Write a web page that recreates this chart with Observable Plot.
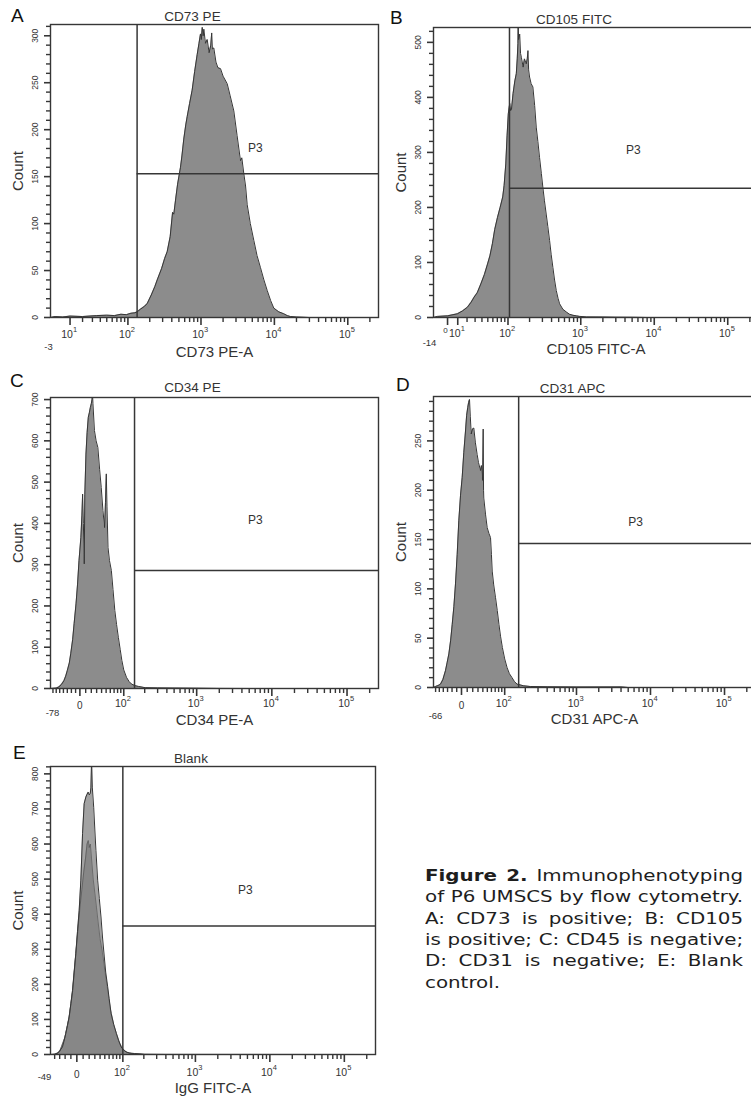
<!DOCTYPE html>
<html><head><meta charset="utf-8">
<script src="https://cdn.jsdelivr.net/npm/d3@7"></script>
<script src="https://cdn.jsdelivr.net/npm/@observablehq/plot@0.6"></script>
<style>
html,body{margin:0;padding:0;background:#fff;overflow:hidden;}
#page{position:relative;width:751px;height:1103px;overflow:hidden;background:#fff;font-family:"Liberation Sans",Arial,sans-serif;}
.panel{position:absolute;}
.letter{position:absolute;font-size:19px;line-height:19px;color:#111;font-family:"Liberation Sans",Arial,sans-serif;}
.cap{position:absolute;left:425px;width:256.5px;font-family:"DejaVu Sans",sans-serif;font-size:16px;line-height:21.3px;height:21.3px;color:#1e1e1e;transform-origin:0 0;transform:scaleX(1.24);white-space:nowrap;text-align:justify;text-align-last:justify;}
.cap.last{text-align:left;text-align-last:left;}
</style></head><body><div id="page"></div>
<script>
// ---------------- data ----------------
const panelLetters = ["A", "B", "C", "D", "E"];
const panelTitles = ["CD73 PE", "CD105 FITC", "CD34 PE", "CD31 APC", "Blank"];
const xAxisLabels = ["CD73 PE-A", "CD105 FITC-A", "CD34 PE-A", "CD31 APC-A", "IgG FITC-A"];
const yAxisLabel = "Count";
const gateName = "P3";

// CD73 PE histogram
const cd73Intensity = [-3,0,5,10,20,35,50,65,80,95,110,125,134,150,170,185,210,235,253,290,320,346,380,410,426,450,480,526,550,583,620,649,700,758,820,888,940,985,1010,1040,1070,1094,1150,1215,1290,1360,1400,1430,1495,1600,1700,1845,2000,2275,2500,2800,3100,3453,3600,3835,4050,4264,4700,5250,5800,6470,7200,7970,8900,9820,11500,13430,15000,16570,20000,30000,262143];
const cd73Count = [0,1,0.5,1.5,1,2,2.5,2,3.5,3,4.5,5,6,9,12,15,24,33,40,52,63,70,86,112,110,125,142,160,172,190,205,214,228,242,262,280,292,302,296,309,300,307,292,296,282,290,303,286,287,272,266,265,257,249,236,220,194,167,170,153,140,120,100,82,66,53,40,29,18,10,6,4,2,1,0.5,0,0];

// CD105 FITC histogram
const cd105Intensity = [-14,-10,0,9.6,15,20.5,25,28.7,33,38.3,44,49.5,54,59,64,70.5,77,84,88,93,97,101,104,106,109,112,118,125,131,135,138,139,141,146,150,154,163,170,180,186,190,194,200,210,222,235,247,260,274,290,304,320,338,356,376,395,417,440,464,490,515,570,636,700,785,870,970,1200,2000,3000,5000,8000,262143];
const cd105Count = [0,2,3,6.7,12,18.8,28,37,45,61,78,97,112,134,160,182,200,219,240,279,330,370,382,389,376,378,407,430,443,470,498,540,505,515,480,473,455,470,461,470,485,450,437,425,419,385,346,320,291,262,237,212,188,165,140,115,91,68,49,35,25,15,10,6,4,3,2,1,0.8,0.5,0.3,0,0];

// CD34 PE histogram
const cd34Intensity = [-78,-60,-52,-45,-38.6,-34,-29.8,-25,-21.6,-17,-13.5,-9,-5.4,-2,1.7,3.5,4.7,6,7.5,8.5,10.5,12.5,14.6,16.5,18.3,20,21.4,22,23,25.8,29,32.4,36,39.3,42.9,46.5,48.5,50.4,52,54.4,58,62.7,67,72,77,82.3,88,93.5,100,110,120,130,145,164,203,300,500,1000,2000,5000,262143];
const cd34Count = [0,1,4,10,19,30,44,62,84,118,157,205,253,310,366,420,471,400,302,470,568,620,657,668,681,690,701,720,690,625,600,584,530,487,431,390,450,520,440,342,310,286,240,189,155,124,95,68,45,27,17,11,7,5,2,1.5,1,0.7,0.3,0,0];

// CD31 APC histogram
const cd31Intensity = [-66,-60.3,-53,-47,-41,-34.8,-31,-27,-23,-19.6,-16,-12.6,-9,-5.6,-2,1.2,4,7,9,11,12.5,14.1,15.5,17.2,19.5,22,25,28.4,31,35,37,39.5,40.7,41.5,42,46,49.7,54,57.7,60,62,66,71,76,81,86,92,100,109,118,129,140,153,190,235,400,1000,4000,5000,262143];
const cd31Count = [0,1,2,3.4,8,17,25,34,48,64,82,105,135,169,195,213,238,260,276,284,289,292,275,257,262,263,248,236,228,220,225,210,262,200,192,175,162,156,152,135,118,104,91,78,64,52,40.5,29,20,14,10,6,3.4,1.7,1,0.7,0.5,0.6,0,0];

// Blank (IgG FITC) histogram: outer and overlapping inner trace
const blankIntensity = [-49,-40,-34.5,-30,-24.8,-22,-18.9,-16,-13,-10,-7.2,-4.5,-1.7,1,3.7,6.4,9.1,11.7,14.5,16.5,18.4,20,21.8,23,24.2,25.5,27.9,30,32,35.3,38.5,41.9,45,48.9,52,56.6,60,65,72,79.4,86,94,102,111.6,125,148,205,400,262143];
const blankCount = [0,1,2.8,10,21.7,38,60,82,107,145,183,235,288,350,411,497,630,715,734,742,748,740,744,760,840,760,705,640,582,497,445,392,335,278,235,193,160,117,85,60,40,22,13,7.6,4,2.8,0.5,0.3,0];
const blankInnerIntensity = [-40,-30,-20,-13,-7,-2,2,5,8,11,14,16.5,18.5,20,22,24,27,30,33,36,40,45,50,56,63,72,80,90,100,115,140,200];
const blankInnerCount = [0,8,50,105,180,280,360,420,470,520,560,600,610,590,600,560,500,460,420,380,330,290,240,190,130,85,58,32,16,6,2,0];

// gates: threshold intensity and horizontal count; P3 label position
const gateThreshold = [134, 105, 144, 161, 100];
const gateLevel = [153, 235, 286, 146, 366];
const p3Intensity = [5500, 5200, 6040, 6280, 4700];
const p3Count = [180, 304, 407, 168, 468];

// axis ranges
const xMinima = [-3, -14, -78, -66, -49];
const xMaximum = 262143;
const yMaxima = [312, 527, 705, 295, 821];

// tick labels
const xNegLabels = ["-3", "-14", "-78", "-66", "-49"];
const decadeTicksAB = [10, 100, 1000, 10000, 100000];
const decadeExpAB = ["1", "2", "3", "4", "5"];
const decadeTicksCDE = [100, 1000, 10000, 100000];
const decadeExpCDE = ["2", "3", "4", "5"];
const zeroLabel = ["0"];
const yTicksA = [0, 50, 100, 150, 200, 250, 300];
const yTicksB = [0, 100, 200, 300, 400, 500];
const yTicksC = [0, 100, 200, 300, 400, 500, 600, 700];
const yTicksD = [0, 50, 100, 150, 200, 250];
const yTicksE = [0, 100, 200, 300, 400, 500, 600, 700, 800];

// caption
const captionLines = [
  ["Figure 2.", " Immunophenotyping"],
  ["", "of P6 UMSCS by flow cytometry."],
  ["", "A: CD73 is positive; B: CD105"],
  ["", "is positive; C: CD45 is negative;"],
  ["", "D: CD31 is negative; E: Blank"],
  ["", "control."]
];

// ---------------- layout / styles ----------------
const layout = [
  {left: 0,   top: 0,   width: 380, height: 365, mt: 24, mb: 48, ml: 50, mr: 2, wn: 10.3, wp: 10.3, titleDy: -8,  xlabDy: 35, tickDy: 17, negDx: -2, negDy: 29, letter: [11, 6]},
  {left: 380, top: 0,   width: 380, height: 365, mt: 27, mb: 48, ml: 53, mr: 2, wn: 15.4, wp: 15.4, titleDy: -8,  xlabDy: 32, tickDy: 16, negDx: -4, negDy: 25, letter: [390, 8]},
  {left: 0,   top: 370, width: 380, height: 365, mt: 27, mb: 47, ml: 50, mr: 2, wn: 38,   wp: 28,   titleDy: -10, xlabDy: 32, tickDy: 15, negDx: 2,  negDy: 24, letter: [10, 371]},
  {left: 380, top: 370, width: 380, height: 365, mt: 26, mb: 48, ml: 53, mr: 5, wn: 33.5, wp: 28,   titleDy: -8,  xlabDy: 32, tickDy: 16, negDx: 2,  negDy: 28, letter: [396, 375]},
  {left: 0,   top: 740, width: 380, height: 363, mt: 26, mb: 49, ml: 50, mr: 5, wn: 27,   wp: 25.6, titleDy: -8,  xlabDy: 34, tickDy: 18, negDx: -6, negDy: 22, letter: [13, 743]}
];
const histFill = "#8c8c8c";
const lineColor = "#363636";
const textColor = "#333";
const fontFamily = "'Liberation Sans', Arial, sans-serif";

const histograms = [
  [cd73Intensity, cd73Count], [cd105Intensity, cd105Count], [cd34Intensity, cd34Count],
  [cd31Intensity, cd31Count], [blankIntensity, blankCount]
];
const yTickSets = [yTicksA, yTicksB, yTicksC, yTicksD, yTicksE];
const yMinorStep = [10, 20, 20, 10, 20];

function makePanel(i) {
  const L = layout[i];
  const f = v => v < 0 ? -Math.asinh(-v / (2 * L.wn)) / Math.LN10 : Math.asinh(v / (2 * L.wp)) / Math.LN10;
  const xlo = f(xMinima[i]), xhi = f(xMaximum);
  const [ints, cnts] = histograms[i];
  const hist = ints.map((v, k) => ({v, c: cnts[k]}));
  const X = d => f(d.v);
  const isAB = i < 2;
  const decades = isAB ? decadeTicksAB : decadeTicksCDE;
  const exps = isAB ? decadeExpAB : decadeExpCDE;

  // minor x ticks (axis structure)
  const minorX = [];
  if (!isAB) for (let t = Math.ceil(xMinima[i] / 10) * 10; t < 100; t += 10) if (t !== 0 && t > xMinima[i]) minorX.push(t);
  for (let k = isAB ? 1 : 2; k <= 4; k++) for (let m = 2; m <= 9; m++) minorX.push(m * Math.pow(10, k));
  minorX.push(200000);
  const majorX = i === 0 ? decades : decades.concat([0]);
  const yMinor = d3.range(0, yMaxima[i], yMinorStep[i]).filter(t => !yTickSets[i].includes(t));

  const yTickRule = (vals, len, w) => Plot.ruleY(vals, {y: d => d, x1: () => xlo, x2: () => xlo, insetLeft: -len, stroke: lineColor, strokeWidth: w});
  const xTickRule = (vals, len, w) => Plot.ruleX(vals, {x: d => f(d), y1: () => 0, y2: () => 0, insetBottom: -len, stroke: lineColor, strokeWidth: w});

  const marks = [
    Plot.areaY(hist, {x: X, y: "c", fill: i === 4 ? "#a2a2a2" : histFill, curve: "linear", clip: true})
  ];
  if (i === 4) {
    const inner = blankInnerIntensity.map((v, k) => ({v, c: blankInnerCount[k]}));
    marks.push(Plot.areaY(inner, {x: X, y: "c", fill: "#878787", curve: "linear", clip: true}));
    marks.push(Plot.lineY(inner, {x: X, y: "c", stroke: "#555", strokeWidth: 0.7, clip: true}));
  }
  marks.push(
    Plot.lineY(hist, {x: X, y: "c", stroke: lineColor, strokeWidth: 1, clip: true}),
    Plot.frame({stroke: lineColor, strokeWidth: 1.4}),
    Plot.ruleX([gateThreshold[i]], {x: d => f(d), stroke: lineColor, strokeWidth: 1.5}),
    Plot.ruleY([gateLevel[i]], {y: d => d, x1: () => f(gateThreshold[i]), x2: () => xhi, stroke: lineColor, strokeWidth: 1.5}),
    Plot.text([gateName], {x: () => f(p3Intensity[i]), y: () => p3Count[i], fontSize: 12, fill: textColor}),
    // y axis
    yTickRule(yTickSets[i], 6, 1.6),
    yTickRule(yMinor, 4, 1.4),
    Plot.text(yTickSets[i], {x: () => xlo, y: d => d, text: d => String(d), rotate: -90, dx: -15, fontSize: 8.5, fill: textColor}),
    Plot.text([yAxisLabel], {frameAnchor: "left", textAnchor: "middle", lineAnchor: "middle", dx: -32, rotate: -90, fontSize: 15, fill: textColor}),
    // x axis
    xTickRule(majorX, 8, 1.6),
    xTickRule(minorX, 5, 1.4),
    Plot.text(decades, {x: d => f(d), y: () => 0, text: () => "10", dx: -3, dy: L.tickDy, fontSize: 10.5, fill: textColor}),
    Plot.text(decades, {x: d => f(d), y: () => 0, text: (d, k) => exps[k], dx: 5, dy: L.tickDy - 5, fontSize: 7.5, fill: textColor}),
    Plot.text(i === 0 ? [] : zeroLabel, {x: () => f(0), y: () => 0, dx: i === 1 ? -2 : 0, dy: i === 1 ? L.tickDy - 3 : L.tickDy + 2, fontSize: i === 1 ? 8 : 10, fill: textColor}),
    Plot.text([xNegLabels[i]], {x: () => xlo, y: () => 0, dx: L.negDx, dy: L.negDy, fontSize: 9.5, fill: textColor}),
    Plot.text([xAxisLabels[i]], {frameAnchor: "bottom", lineAnchor: "middle", dy: L.xlabDy, fontSize: 15, fill: textColor}),
    Plot.text([panelTitles[i]], {frameAnchor: "top", lineAnchor: "middle", dx: -22, dy: L.titleDy, fontSize: 13.5, fill: textColor})
  );
  const svg = Plot.plot({
    width: L.width, height: L.height,
    marginTop: L.mt, marginBottom: L.mb, marginLeft: L.ml, marginRight: L.mr,
    x: {type: "linear", domain: [xlo, xhi], axis: null},
    y: {type: "linear", domain: [0, yMaxima[i]], axis: null},
    style: {fontFamily, background: "transparent", overflow: "visible"},
    marks
  });
  svg.classList.add("panel");
  svg.style.left = L.left + "px";
  svg.style.top = L.top + "px";
  return svg;
}

const page = document.getElementById("page");
for (let i = 0; i < 5; i++) {
  page.appendChild(makePanel(i));
  const d = document.createElement("div");
  d.className = "letter";
  d.textContent = panelLetters[i];
  d.style.left = layout[i].letter[0] + "px";
  d.style.top = layout[i].letter[1] + "px";
  page.appendChild(d);
}
captionLines.forEach((ln, k) => {
  const d = document.createElement("div");
  d.className = "cap" + (k === captionLines.length - 1 ? " last" : "");
  d.style.top = (865 + k * 21.3) + "px";
  if (ln[0]) { const b = document.createElement("b"); b.textContent = ln[0]; d.appendChild(b); }
  d.appendChild(document.createTextNode(ln[1]));
  page.appendChild(d);
});
</script></body></html>
